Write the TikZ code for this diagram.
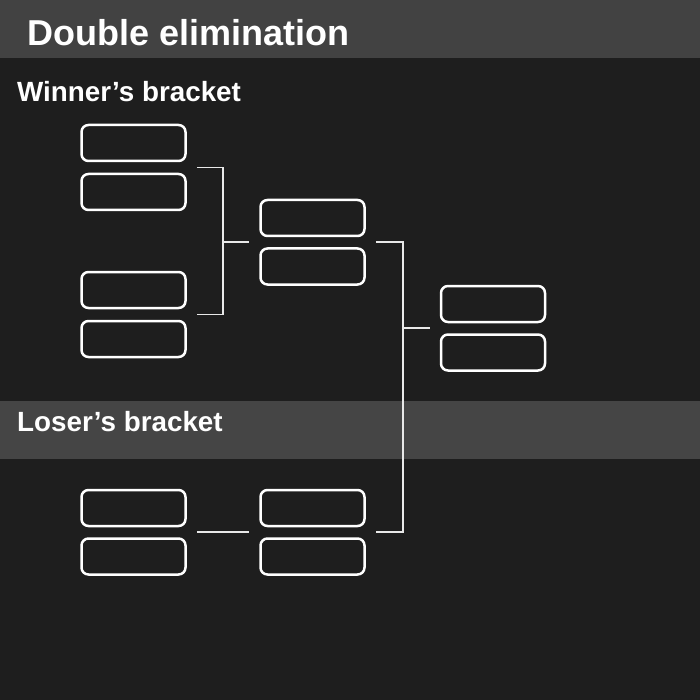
\documentclass[tikz,border=0pt]{standalone}
\usepackage{fontspec}
\setmainfont{Liberation Sans}
\usetikzlibrary{calc}
\definecolor{bgc}{HTML}{1E1E1E}
\definecolor{barc}{HTML}{424242}
\definecolor{bandc}{HTML}{454545}
\definecolor{linec}{HTML}{E8E8E8}
\tikzset{
  slot/.style={draw=white, line width=2.5pt, rounded corners=7pt, minimum width=104pt, minimum height=36pt, inner sep=0pt},
  conn/.style={draw=linec, line width=1.6pt},
  lbl/.style={anchor=base west, inner sep=0pt, text=white, font=\bfseries}
}
\begin{document}
\begin{tikzpicture}[x=1pt,y=-1pt]
\useasboundingbox (0,0) rectangle (700,700);
\fill[bgc] (0,0) rectangle (700,700);
\fill[barc] (0,0) rectangle (700,58);
\fill[bandc] (0,401) rectangle (700,459);
\node[lbl, font=\bfseries\fontsize{36}{40}\selectfont] (title) at (27,45.5) {Double elimination};
\node[lbl, font=\bfseries\fontsize{27.8}{30}\selectfont] (wb) at (17,101.5) {Winner’s bracket};
\node[lbl, font=\bfseries\fontsize{27.8}{30}\selectfont] (lb) at (17,431.5) {Loser’s bracket};
% winner round 1
\node[slot] (w1a) at (133.5,143) {};
\node[slot] (w1b) at (133.5,192) {};
\node[slot] (w1c) at (133.5,290) {};
\node[slot] (w1d) at (133.5,339) {};
% winner round 2
\node[slot] (w2a) at (312.5,218) {};
\node[slot] (w2b) at (312.5,266.5) {};
% final
\node[slot] (fa) at (493,304) {};
\node[slot] (fb) at (493,352.5) {};
% loser
\node[slot] (l1a) at (133.5,508) {};
\node[slot] (l1b) at (133.5,556.5) {};
\node[slot] (l2a) at (312.5,508) {};
\node[slot] (l2b) at (312.5,556.5) {};
% pair midpoints
\coordinate (m1) at ($(w1a.south east)!0.5!(w1b.north east)$);
\coordinate (m2) at ($(w1c.south east)!0.5!(w1d.north east)$);
\coordinate (n1l) at ($(w2a.south west)!0.5!(w2b.north west)$);
\coordinate (n1r) at ($(w2a.south east)!0.5!(w2b.north east)$);
\coordinate (fl) at ($(fa.south west)!0.5!(fb.north west)$);
\coordinate (p1r) at ($(l1a.south east)!0.5!(l1b.north east)$);
\coordinate (p2l) at ($(l2a.south west)!0.5!(l2b.north west)$);
\coordinate (p2r) at ($(l2a.south east)!0.5!(l2b.north east)$);
\coordinate (j1) at ($([xshift=10pt]m1)!0.5!([xshift=-10pt]n1l)$);
\coordinate (j2) at ($([xshift=10pt]n1r)!0.5!([xshift=-10pt]fl)$);
% connectors
\draw[conn] ([xshift=10pt]m1) -| (j1 |- m2) -- ([xshift=10pt]m2);
\draw[conn] (j1 |- n1l) -- ([xshift=-10pt]n1l);
\draw[conn] ([xshift=10pt]n1r) -| (j2 |- p2r) -- ([xshift=10pt]p2r);
\draw[conn] (j2 |- fl) -- ([xshift=-10pt]fl);
\draw[conn] ([xshift=10pt]p1r) -- ([xshift=-10pt]p2l);
\end{tikzpicture}
\end{document}
